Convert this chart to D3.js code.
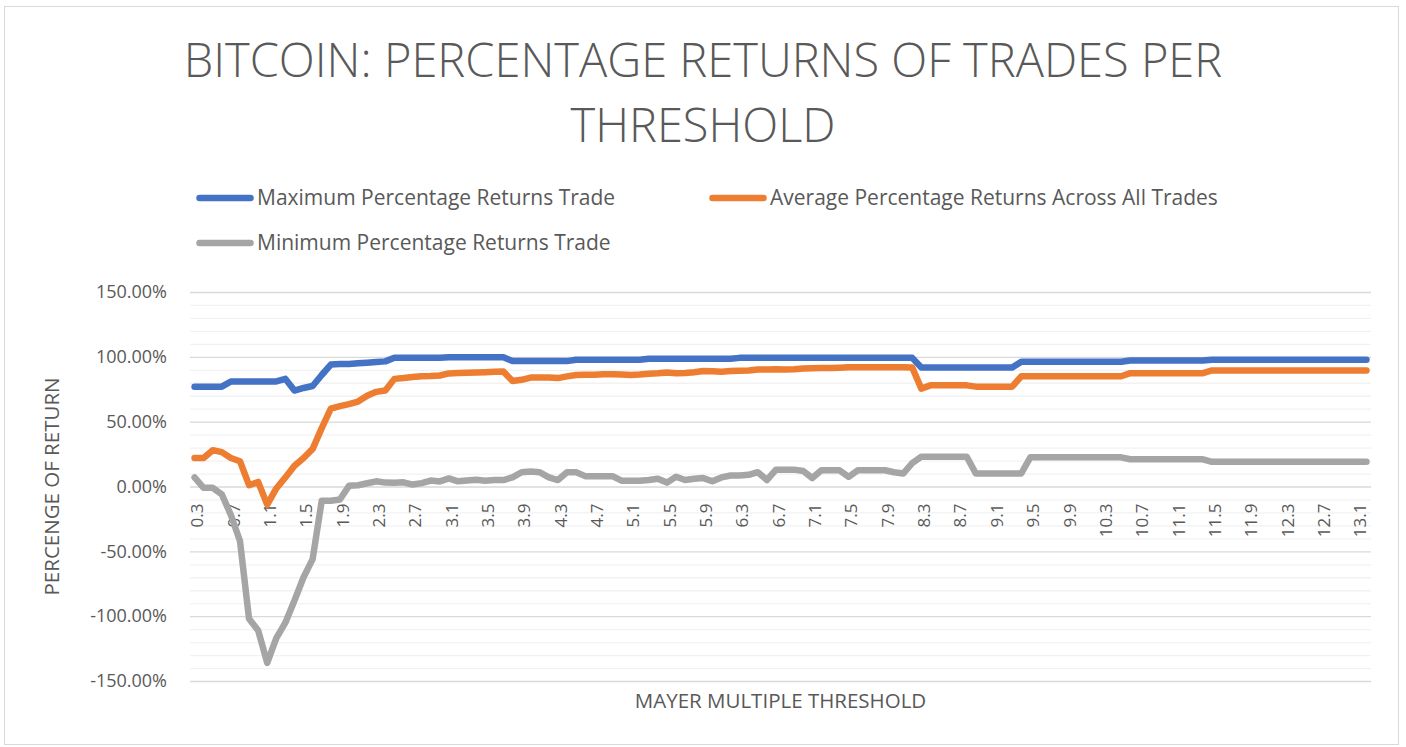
<!DOCTYPE html>
<html>
<head>
<meta charset="utf-8">
<script src="https://cdn.jsdelivr.net/npm/d3@7"></script>
<style>
  body { margin: 0; background: #fff; }
  svg { display: block; font-family: "Open Sans", sans-serif; }
</style>
</head>
<body>
<div id="chart"></div>
<script>
// Mayer multiple thresholds (x categories)
const thresholds = [
  "0.3","0.4","0.5","0.6","0.7","0.8","0.9","1.0","1.1","1.2",
  "1.3","1.4","1.5","1.6","1.7","1.8","1.9","2.0","2.1","2.2",
  "2.3","2.4","2.5","2.6","2.7","2.8","2.9","3.0","3.1","3.2",
  "3.3","3.4","3.5","3.6","3.7","3.8","3.9","4.0","4.1","4.2",
  "4.3","4.4","4.5","4.6","4.7","4.8","4.9","5.0","5.1","5.2",
  "5.3","5.4","5.5","5.6","5.7","5.8","5.9","6.0","6.1","6.2",
  "6.3","6.4","6.5","6.6","6.7","6.8","6.9","7.0","7.1","7.2",
  "7.3","7.4","7.5","7.6","7.7","7.8","7.9","8.0","8.1","8.2",
  "8.3","8.4","8.5","8.6","8.7","8.8","8.9","9.0","9.1","9.2",
  "9.3","9.4","9.5","9.6","9.7","9.8","9.9","10.0","10.1","10.2",
  "10.3","10.4","10.5","10.6","10.7","10.8","10.9","11.0","11.1","11.2",
  "11.3","11.4","11.5","11.6","11.7","11.8","11.9","12.0","12.1","12.2",
  "12.3","12.4","12.5","12.6","12.7","12.8","12.9","13.0","13.1","13.2"
];

const tickLabels = [
  "0.3","0.7","1.1","1.5","1.9","2.3","2.7","3.1","3.5","3.9","4.3",
  "4.7","5.1","5.5","5.9","6.3","6.7","7.1","7.5","7.9","8.3","8.7",
  "9.1","9.5","9.9","10.3","10.7","11.1","11.5","11.9","12.3","12.7","13.1"
];

const yTicks = [-150, -100, -50, 0, 50, 100, 150];

// percentage returns, one value per threshold
const maxReturns = [
  77, 77, 77, 77, 81, 81, 81, 81, 81, 81,
  83, 74, 76, 77.5, 86, 94, 94.5, 94.5, 95, 95.5,
  96, 96.5, 99.3, 99.3, 99.3, 99.3, 99.3, 99.3, 99.6, 99.6,
  99.6, 99.6, 99.6, 99.6, 99.6, 96.7, 96.7, 96.7, 96.7, 96.7,
  96.7, 96.7, 97.7, 97.7, 97.7, 97.7, 97.7, 97.7, 97.7, 97.7,
  98.5, 98.5, 98.5, 98.5, 98.5, 98.5, 98.5, 98.5, 98.5, 98.5,
  99.2, 99.2, 99.2, 99.2, 99.2, 99.2, 99.2, 99.2, 99.2, 99.2,
  99.2, 99.2, 99.2, 99.2, 99.2, 99.2, 99.2, 99.2, 99.2, 99.2,
  91.8, 91.8, 91.8, 91.8, 91.8, 91.8, 91.8, 91.8, 91.8, 91.8,
  91.8, 96.2, 96.2, 96.2, 96.2, 96.2, 96.2, 96.2, 96.2, 96.2,
  96.2, 96.2, 96.2, 97.2, 97.2, 97.2, 97.2, 97.2, 97.2, 97.2,
  97.2, 97.2, 97.7, 97.7, 97.7, 97.7, 97.7, 97.7, 97.7, 97.7,
  97.7, 97.7, 97.7, 97.7, 97.7, 97.7, 97.7, 97.7, 97.7, 97.7
];

const avgReturns = [
  22, 22, 28, 26.5, 22, 19.5, 1, 3.5, -14, -1.5,
  7, 16, 22, 29, 45, 60, 62, 63.5, 65.5, 70,
  73, 74, 83, 83.6, 84.4, 85, 85.2, 85.6, 87.2, 87.6,
  87.8, 88, 88.2, 88.5, 88.6, 81.4, 82.3, 84, 84, 84,
  83.6, 84.9, 86, 86.2, 86.2, 86.6, 86.6, 86.4, 86, 86.4,
  87, 87.3, 88, 87.4, 87.6, 88.1, 89, 88.8, 88.5, 89,
  89.3, 89.5, 90.3, 90.3, 90.4, 90.3, 90.5, 91, 91.2, 91.3,
  91.3, 91.6, 92, 92, 92, 92, 92, 92, 92, 91.8,
  75.5, 78, 78, 78, 78, 78, 77, 77, 77, 77,
  77, 85, 85, 85, 85, 85, 85, 85, 85, 85,
  85, 85, 85, 87.4, 87.4, 87.4, 87.4, 87.4, 87.4, 87.4,
  87.4, 87.4, 89.5, 89.5, 89.5, 89.5, 89.5, 89.5, 89.5, 89.5,
  89.5, 89.5, 89.5, 89.5, 89.5, 89.5, 89.5, 89.5, 89.5, 89.5
];

const minReturns = [
  7, -1, -1, -6, -22, -42, -102, -111, -136, -117,
  -105, -88, -70, -56, -11, -11, -10, 0.5, 1, 2.5,
  4, 3, 2.8, 3.2, 1.5, 2.6, 4.6, 3.9, 6.2, 4,
  4.6, 5.2, 4.4, 5, 5, 7, 11, 11.5, 11, 7,
  5, 11, 11, 8, 8, 8, 8, 4.5, 4.5, 4.5,
  5, 6, 3, 7.5, 5, 6, 6.5, 4, 7, 8.5,
  8.5, 9, 11, 5, 13, 13, 13, 12, 6.5, 12.5,
  12.5, 12.5, 7.5, 12.5, 12.5, 12.5, 12.5, 11, 10, 18,
  23, 23, 23, 23, 23, 23, 10, 10, 10, 10,
  10, 10, 22.5, 22.5, 22.5, 22.5, 22.5, 22.5, 22.5, 22.5,
  22.5, 22.5, 22.5, 21, 21, 21, 21, 21, 21, 21,
  21, 21, 19, 19, 19, 19, 19, 19, 19, 19,
  19, 19, 19, 19, 19, 19, 19, 19, 19, 19
];

const seriesNames = [
  "Maximum Percentage Returns Trade",
  "Average Percentage Returns Across All Trades",
  "Minimum Percentage Returns Trade"
];
const seriesColors = ["#4472C4", "#ED7D31", "#A5A5A5"];

(function () {
  const W = 1406, H = 747;
  const plot = { left: 190, right: 1371, top: 292, bottom: 681 };
  const textColor = "#595959";

  const svg = d3.select("#chart").append("svg")
    .attr("width", W).attr("height", H);

  // chart outline
  svg.append("rect")
    .attr("x", 4.5).attr("y", 6.5).attr("width", 1394).attr("height", 738)
    .attr("fill", "#fff").attr("stroke", "#d9d9d9");

  const x = d3.scaleBand().domain(thresholds).range([plot.left, plot.right]);
  const y = d3.scaleLinear().domain([-150, 150]).range([plot.bottom, plot.top]);
  const cx = d => x(d) + x.bandwidth() / 2;

  // gridlines: minor every 10%, major every 50%
  const minor = d3.range(-150, 151, 10).filter(v => v % 50 !== 0);
  svg.append("g").selectAll("line").data(minor).join("line")
    .attr("x1", plot.left).attr("x2", plot.right)
    .attr("y1", d => y(d) + 0.5).attr("y2", d => y(d) + 0.5)
    .attr("stroke", "#f2f2f2").attr("stroke-width", 1.3);
  svg.append("g").selectAll("line").data(yTicks).join("line")
    .attr("x1", plot.left).attr("x2", plot.right)
    .attr("y1", d => y(d) + 0.5).attr("y2", d => y(d) + 0.5)
    .attr("stroke", "#d9d9d9").attr("stroke-width", 1.3);

  // y axis labels
  const yAxis = svg.append("g")
    .attr("transform", `translate(${plot.left},0)`)
    .call(d3.axisLeft(y).tickValues(yTicks).tickSize(0).tickPadding(23)
      .tickFormat(d => d.toFixed(2) + "%"));
  yAxis.select(".domain").remove();
  yAxis.selectAll("text")
    .attr("fill", textColor).attr("font-size", "18px")
    .attr("font-family", "Open Sans, sans-serif");

  // x axis labels, rotated, hanging below the 0% line
  const xAxis = svg.append("g")
    .attr("transform", `translate(0,${y(0)})`)
    .call(d3.axisBottom(x).tickValues(tickLabels).tickSize(0));
  xAxis.select(".domain").remove();
  xAxis.selectAll("text")
    .attr("transform", "rotate(-90)")
    .attr("x", -17).attr("y", 0).attr("dy", "0.52em")
    .style("text-anchor", "end")
    .attr("fill", textColor).attr("font-size", "17px")
    .attr("font-family", "Open Sans, sans-serif");

  // series lines
  const line = d3.line().x((d, i) => cx(thresholds[i])).y(d => y(d));
  [maxReturns, avgReturns, minReturns].forEach((vals, k) => {
    svg.append("path").datum(vals)
      .attr("d", line)
      .attr("fill", "none")
      .attr("stroke", seriesColors[k])
      .attr("stroke-width", 6.5)
      .attr("stroke-linecap", "round")
      .attr("stroke-linejoin", "round");
  });

  // title
  svg.append("text")
    .attr("x", 703).attr("text-anchor", "middle")
    .attr("fill", textColor).attr("font-size", "47px").attr("font-weight", 300)
    .selectAll("tspan")
    .data(["BITCOIN: PERCENTAGE RETURNS OF TRADES PER", "THRESHOLD"])
    .join("tspan")
    .attr("x", 703).attr("y", (d, i) => 77 + i * 65)
    .text(d => d);

  // legend
  const legendPos = [[196, 198], [709, 198], [196, 243]];
  const legend = svg.append("g").selectAll("g").data(seriesNames).join("g")
    .attr("transform", (d, i) => `translate(${legendPos[i][0]},${legendPos[i][1]})`);
  legend.append("line")
    .attr("x1", 3.5).attr("x2", 54.5)
    .attr("stroke", (d, i) => seriesColors[i])
    .attr("stroke-width", 6.5).attr("stroke-linecap", "round");
  legend.append("text")
    .attr("x", 61).attr("dy", "0.35em")
    .attr("fill", textColor).attr("font-size", "21px")
    .text(d => d);

  // axis titles
  svg.append("text")
    .attr("x", (plot.left + plot.right) / 2).attr("y", 708)
    .attr("text-anchor", "middle").attr("fill", textColor).attr("font-size", "20.5px")
    .text("MAYER MULTIPLE THRESHOLD");

  svg.append("text")
    .attr("transform", `translate(59,${(plot.top + plot.bottom) / 2}) rotate(-90)`)
    .attr("text-anchor", "middle").attr("fill", textColor).attr("font-size", "20.5px")
    .text("PERCENGE OF RETURN");
})();
</script>
</body>
</html>
